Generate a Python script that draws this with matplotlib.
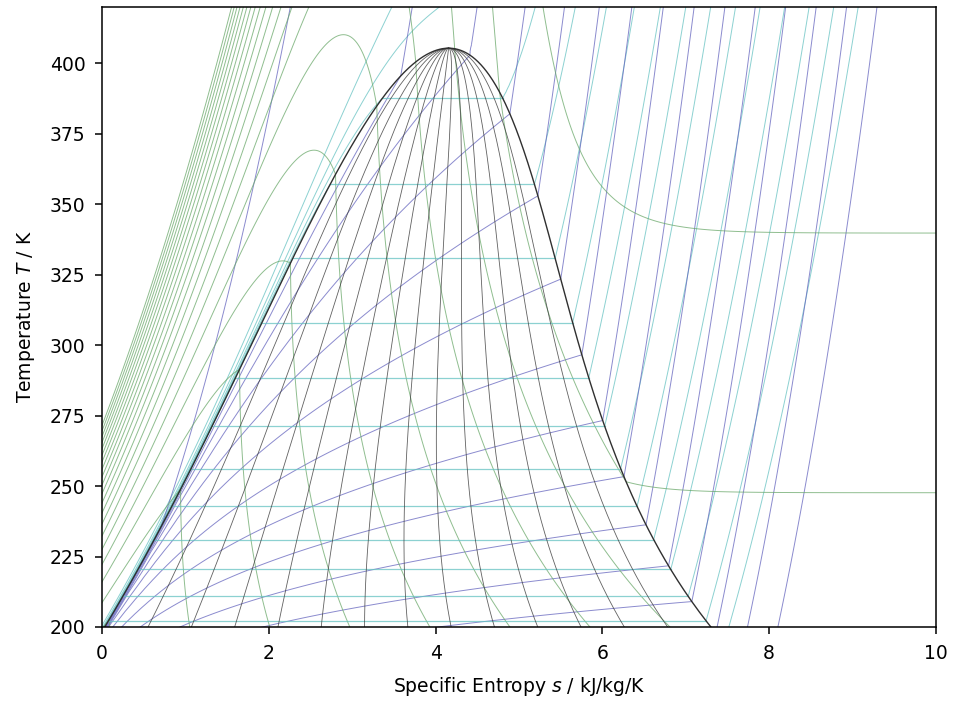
import numpy as np
import matplotlib
matplotlib.use("Agg")
import matplotlib.pyplot as plt
from matplotlib.tri import Triangulation

# ammonia, Patel-Teja cubic equation of state
M_NH3 = 17.031e-3          # kg/mol
T_CRIT = 405.4             # K
P_CRIT = 113.33e5          # Pa
ZETA_C = 0.295
F_PT = 0.68
T_TRIP = 195.495           # K, reference: saturated liquid at the triple point
S_OFFSET = -0.06           # kJ/(kg K) added to the reference entropy
R = 8.314462 / M_NH3       # J/(kg K)
CP0 = [27.31, 2.383e-2, 1.707e-5, -1.185e-8]   # ideal gas cp in J/(mol K), cubic in T

# isoline values
p_iso = [0.0609, 0.111, 0.203, 0.370, 0.675, 1.23, 2.25, 4.10, 7.48, 13.6,
         24.9, 45.4, 82.8, 151, 276]                                           # bar
v_iso = [0.00154, 0.00325, 0.00686, 0.0145, 0.0306, 0.0645, 0.136, 0.287,
         0.605, 1.28, 2.69, 5.67, 12.0, 25.3, 53.4]                            # m3/kg
h_iso = [30, 222, 414, 606, 798, 990, 1182, 1374, 1566, 1758, 1950, 2142,
         2334, 2526, 2718, 2910, 3102, 3294, 3486, 3678]                       # kJ/kg
q_iso = [0.0714, 0.1429, 0.2143, 0.2857, 0.3571, 0.4286, 0.5, 0.5714,
         0.6429, 0.7143, 0.7857, 0.8571, 0.9286]

COL_P = "#66c2c2"
COL_V = "#6464be"
COL_H = "#6aa86a"
COL_Q = "#3a3a3a"

om_b = min(r.real for r in np.roots([1, 2 - 3 * ZETA_C, 3 * ZETA_C**2, -ZETA_C**3])
           if abs(r.imag) < 1e-12 and r.real > 0)
om_c = 1 - 3 * ZETA_C
om_a = 3 * ZETA_C**2 + 3 * (1 - 2 * ZETA_C) * om_b + om_b**2 + 1 - 3 * ZETA_C
A_C = om_a * R**2 * T_CRIT**2 / P_CRIT
B_EOS = om_b * R * T_CRIT / P_CRIT
C_EOS = om_c * R * T_CRIT / P_CRIT
# v(v + b) + c(v - b) = (v + e)(v + f)
_root = np.sqrt((B_EOS + C_EOS) ** 2 + 4 * B_EOS * C_EOS)
E_EOS = 0.5 * (B_EOS + C_EOS + _root)
F_EOS = 0.5 * (B_EOS + C_EOS - _root)


def attraction(T):
    g = 1.0 + F_PT * (1.0 - np.sqrt(T / T_CRIT))
    return A_C * g**2, -A_C * F_PT * g / np.sqrt(T * T_CRIT)


def z_root(T, p, phase):
    T, p = np.broadcast_arrays(np.asarray(T, float), np.asarray(p, float))
    shape = T.shape
    T, p = T.ravel(), p.ravel()
    a, _ = attraction(T)
    rt = R * T / p
    A, B = a / (p * rt**2), B_EOS / rt
    E, F = E_EOS / rt, F_EOS / rt
    S, P = E + F, E * F
    comp = np.zeros((T.size, 3, 3))
    comp[:, 0, 0] = -(S - B - 1)
    comp[:, 0, 1] = -(P - B * S - S + A)
    comp[:, 0, 2] = B * P + P + A * B
    comp[:, 1, 0] = 1.0
    comp[:, 2, 1] = 1.0
    r = np.linalg.eigvals(comp)
    ok = (np.abs(r.imag) < 1e-9) & (r.real > B[:, None])
    if phase == "vap":
        z = np.where(ok, r.real, -np.inf).max(axis=1)
    else:
        z = np.where(ok, r.real, np.inf).min(axis=1)
    return z.reshape(shape)


def ln_phi(T, p, z):
    a, _ = attraction(T)
    rt = R * T / p
    A, B = a / (p * rt**2), B_EOS / rt
    E, F = E_EOS / rt, F_EOS / rt
    return z - 1 - np.log(z - B) - A / (E - F) * np.log((z + E) / (z + F))


def saturation(T_arr):
    lnp = np.empty_like(T_arr)
    guess = np.log(P_CRIT) + 5.373 * 1.256 * (1 - T_CRIT / T_arr[0])
    for i, T in enumerate(T_arr):
        if i >= 2:
            w = (1 / T - 1 / T_arr[i - 1]) / (1 / T_arr[i - 1] - 1 / T_arr[i - 2])
            guess = lnp[i - 1] + w * (lnp[i - 1] - lnp[i - 2])
        elif i == 1:
            guess = lnp[0]
        for _ in range(300):
            p = np.exp(guess)
            zl = z_root(T, p, "liq")[()]
            zv = z_root(T, p, "vap")[()]
            if zv - zl < 1e-10:
                guess += 0.002 if zv > ZETA_C else -0.002
                continue
            g = ln_phi(T, p, zl) - ln_phi(T, p, zv)
            step = np.clip(-g / (zl - zv), -0.05, 0.05)
            guess += step
            if abs(step) < 1e-12:
                break
        lnp[i] = guess
    p = np.exp(lnp)
    zl = z_root(T_arr, p, "liq")
    zv = z_root(T_arr, p, "vap")
    return p, zl * R * T_arr / p, zv * R * T_arr / p


def ideal_parts(T):
    c0, c1, c2, c3 = [c / M_NH3 for c in CP0]
    h0 = c0 * T + c1 * T**2 / 2 + c2 * T**3 / 3 + c3 * T**4 / 4
    s0 = c0 * np.log(T) + c1 * T + c2 * T**2 / 2 + c3 * T**3 / 3
    return h0, s0


def props(T, v):
    a, dadT = attraction(T)
    I = np.log((v + E_EOS) / (v + F_EOS)) / (E_EOS - F_EOS)
    p = R * T / (v - B_EOS) - a / ((v + E_EOS) * (v + F_EOS))
    h0, s0 = ideal_parts(T)
    h = h0 + p * v - R * T + (T * dadT - a) * I
    s = s0 - R * np.log(T) + R * np.log(v - B_EOS) + dadT * I
    return h, s


def mesh(s, T):
    n, m = s.shape
    idx = np.arange(n * m).reshape(n, m)
    a, b = idx[:-1, :-1].ravel(), idx[1:, :-1].ravel()
    c, d = idx[1:, 1:].ravel(), idx[:-1, 1:].ravel()
    tris = np.concatenate([np.stack([a, b, c], 1), np.stack([a, c, d], 1)])
    return Triangulation(s.ravel(), T.ravel(), tris)


# reference state
p_tr, vl_tr, _ = saturation(np.array([T_TRIP - 0.5, T_TRIP]))
h_ref, s_ref = props(T_TRIP, vl_tr[1])


def state(T, v):
    h, s = props(T, v)
    return (h - h_ref) / 1e3, (s - s_ref) / 1e3 + S_OFFSET


# saturation curve
w = np.linspace(1.0, 0.015, 320)
T_sat = T_CRIT - (T_CRIT - 199.0) * w**2
p_sat, vl_sat, vv_sat = saturation(T_sat)
hl_sat, sl_sat = state(T_sat, vl_sat)
hv_sat, sv_sat = state(T_sat, vv_sat)
v_crit = ZETA_C * R * T_CRIT / P_CRIT
h_crit, s_crit = state(T_CRIT, v_crit)

# single phase meshes: vapour side below p_sat (or p_crit), liquid side above
T_grid = np.linspace(199.0, 421.0, 260)
lp_split = np.full(T_grid.shape, np.log(P_CRIT))
sub = T_grid < T_CRIT
lp_split[sub] = np.interp(1 / T_grid[sub], (1 / T_sat)[::-1], np.log(p_sat)[::-1])
u = np.linspace(0.0, 1.0, 300)[None, :]
lp_lo, lp_hi = np.log(0.0005e5), np.log(30000e5)
TT = np.repeat(T_grid[:, None], u.size, axis=1)

regions = []
for phase, lp in (("vap", lp_lo + (lp_split[:, None] - lp_lo) * u),
                  ("liq", lp_split[:, None] + (lp_hi - lp_split[:, None]) * u)):
    pp = np.exp(lp)
    vv = z_root(TT, pp, phase) * R * TT / pp
    hh, ss = state(TT, vv)
    regions.append((mesh(ss, TT), (lp / np.log(10) - 5).ravel(), np.log10(vv).ravel(), hh.ravel()))

# two phase mesh
x = np.linspace(0.0, 1.0, 160)[None, :]
T2 = np.repeat(T_sat[:, None], x.size, axis=1)
s2 = sl_sat[:, None] + x * (sv_sat - sl_sat)[:, None]
h2 = hl_sat[:, None] + x * (hv_sat - hl_sat)[:, None]
v2 = vl_sat[:, None] + x * (vv_sat - vl_sat)[:, None]
tri2 = mesh(s2, T2)

fig = plt.figure(figsize=(9.54, 7.04), dpi=100)
ax = fig.add_axes([0.107, 0.1094, 0.874, 0.8806])

lw = 0.7
kw = dict(linewidths=lw, alpha=0.75, linestyles="solid")
for tri, logp, logv, hh in regions:
    ax.tricontour(tri, logp, levels=np.log10(p_iso), colors=COL_P, **kw)
    ax.tricontour(tri, logv, levels=np.log10(v_iso), colors=COL_V, **kw)
    ax.tricontour(tri, hh, levels=h_iso, colors=COL_H, **kw)

ax.tricontour(tri2, np.log10(v2).ravel(), levels=np.log10(v_iso), colors=COL_V, **kw)
ax.tricontour(tri2, h2.ravel(), levels=h_iso, colors=COL_H, **kw)

# isobars are horizontal inside the dome
for p in p_iso:
    if p * 1e5 < p_sat[-1]:
        Ts = np.interp(np.log(p * 1e5), np.log(p_sat), T_sat)
        ax.plot([np.interp(Ts, T_sat, sl_sat), np.interp(Ts, T_sat, sv_sat)], [Ts, Ts],
                color=COL_P, lw=0.9, alpha=0.75)

for q in q_iso:
    ax.plot(np.append(sl_sat + q * (sv_sat - sl_sat), s_crit), np.append(T_sat, T_CRIT),
            color=COL_Q, lw=0.6, alpha=0.8)

ax.plot(np.concatenate([sl_sat, [s_crit], sv_sat[::-1]]),
        np.concatenate([T_sat, [T_CRIT], T_sat[::-1]]), color="#303030", lw=1.0)

ax.set_xlim(0, 10)
ax.set_ylim(200, 420)
ax.set_yticks([200, 225, 250, 275, 300, 325, 350, 375, 400])
ax.tick_params(labelsize=13.5, length=5, width=1.1, pad=7)
for sp in ax.spines.values():
    sp.set_linewidth(1.1)
ax.set_xlabel("Specific Entropy $s$ / kJ/kg/K", fontsize=13.5, labelpad=9)
ax.set_ylabel("Temperature $T$ / K", fontsize=13.5, labelpad=9)

fig.savefig("out.png", dpi=100)
